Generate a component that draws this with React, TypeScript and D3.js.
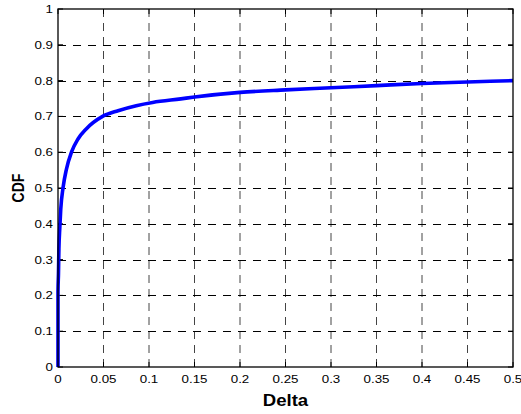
import React, { useRef, useEffect } from "react";
import * as d3 from "d3";

// values
const deltaValues = [0, 0, 0.0005, 0.001, 0.002, 0.003, 0.0055, 0.0093, 0.0148, 0.022, 0.031, 0.049, 0.066, 0.086, 0.104, 0.135, 0.15, 0.2, 0.25, 0.3, 0.35, 0.4, 0.45, 0.5];
const cdfValues = [0, 0.21, 0.26, 0.33, 0.39, 0.44, 0.5, 0.553, 0.6, 0.637, 0.665, 0.7, 0.716, 0.73, 0.739, 0.749, 0.754, 0.767, 0.774, 0.78, 0.786, 0.792, 0.796, 0.8];

const xTicks = [0, 0.05, 0.1, 0.15, 0.2, 0.25, 0.3, 0.35, 0.4, 0.45, 0.5];
const yTicks = [0, 0.1, 0.2, 0.3, 0.4, 0.5, 0.6, 0.7, 0.8, 0.9, 1];

const FONT = "'Liberation Sans', Arial, Helvetica, sans-serif";
// the reference image is stretched sideways a little
const STRETCH = 1.16;

function CdfChart() {
  const svgRef = useRef<SVGSVGElement>(null);

  useEffect(() => {
    const svg = d3.select(svgRef.current);
    svg.selectAll("*").remove();

    const margin = { top: 9, right: 8, bottom: 47, left: 58 };
    const width = 521 - margin.left - margin.right;
    const height = 414 - margin.top - margin.bottom;

    const x = d3.scaleLinear().domain([0, 0.5]).range([0, width]);
    const y = d3.scaleLinear().domain([0, 1]).range([height, 0]);

    svg.append("rect").attr("width", 521).attr("height", 414).attr("fill", "#fff");

    const g = svg.append("g").attr("transform", `translate(${margin.left},${margin.top})`);

    // dashed grid
    g.append("g")
      .selectAll("line")
      .data(xTicks.slice(1, -1))
      .join("line")
      .attr("x1", (d) => x(d))
      .attr("x2", (d) => x(d))
      .attr("y1", 0)
      .attr("y2", height)
      .attr("stroke", "#444")
      .attr("stroke-dasharray", "8,6");

    g.append("g")
      .selectAll("line")
      .data(yTicks.slice(1, -1))
      .join("line")
      .attr("x1", 0)
      .attr("x2", width)
      .attr("y1", (d) => Math.round(y(d)) + 0.5)
      .attr("y2", (d) => Math.round(y(d)) + 0.5)
      .attr("stroke", "#000")
      .attr("stroke-dasharray", "8,7");

    // inward ticks on all four sides
    const tickLen = 5;
    const ticks = g.append("g").attr("stroke", "#000");
    xTicks.forEach((t) => {
      ticks.append("line").attr("x1", x(t)).attr("x2", x(t)).attr("y1", height).attr("y2", height - tickLen);
      ticks.append("line").attr("x1", x(t)).attr("x2", x(t)).attr("y1", 0).attr("y2", tickLen);
    });
    yTicks.forEach((t) => {
      ticks.append("line").attr("x1", 0).attr("x2", tickLen).attr("y1", y(t)).attr("y2", y(t));
      ticks.append("line").attr("x1", width).attr("x2", width - tickLen).attr("y1", y(t)).attr("y2", y(t));
    });

    // curve
    const line = d3
      .line<number>()
      .x((d) => x(d))
      .y((d, i) => y(cdfValues[i]))
      .curve(d3.curveMonotoneX);

    g.append("path")
      .datum(deltaValues)
      .attr("d", line)
      .attr("fill", "none")
      .attr("stroke", "#0000ff")
      .attr("stroke-width", 3.6)
      .attr("stroke-linejoin", "round");

    // frame
    g.append("rect")
      .attr("width", width)
      .attr("height", height)
      .attr("fill", "none")
      .attr("stroke", "#000")
      .attr("stroke-width", 1.3);

    // tick labels
    g.append("g")
      .selectAll("text")
      .data(xTicks)
      .join("text")
      .attr("transform", (d) => `translate(${x(d)},${height + 16}) scale(${STRETCH},1)`)
      .attr("text-anchor", "middle")
      .style("font-family", FONT)
      .style("font-size", "11.5px")
      .text((d) => String(d));

    g.append("g")
      .selectAll("text")
      .data(yTicks)
      .join("text")
      .attr("transform", (d) => `translate(-5,${y(d)}) scale(${STRETCH},1)`)
      .attr("dy", "0.35em")
      .attr("text-anchor", "end")
      .style("font-family", FONT)
      .style("font-size", "11.5px")
      .text((d) => String(d));

    // axis titles
    g.append("text")
      .attr("transform", `translate(${width / 2},${height + 39}) scale(${STRETCH},1)`)
      .attr("text-anchor", "middle")
      .style("font-family", FONT)
      .style("font-size", "16px")
      .style("font-weight", "bold")
      .text("Delta");

    g.append("text")
      .attr("transform", `translate(${-34},${height / 2}) scale(${STRETCH},1) rotate(-90)`)
      .attr("text-anchor", "middle")
      .style("font-family", FONT)
      .style("font-size", "14px")
      .style("font-weight", "bold")
      .text("CDF");
  }, []);

  return (
    <svg
      ref={svgRef}
      width={521}
      height={414}
      style={{ position: "absolute", left: 0, top: 0, display: "block" }}
    />
  );
}

export default function App() {
  return <CdfChart />;
}
